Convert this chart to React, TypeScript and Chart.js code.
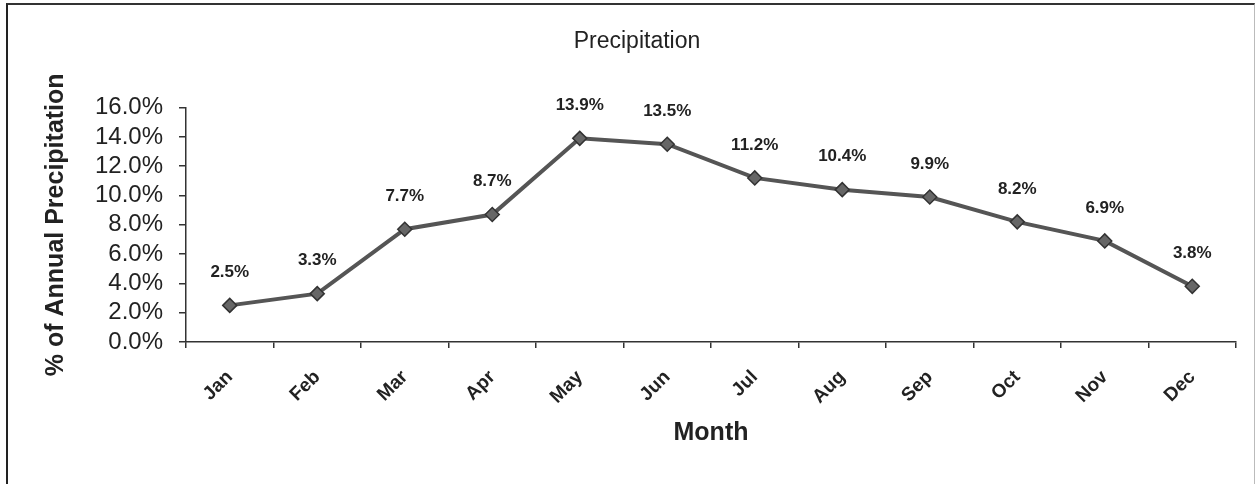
import React, { useEffect, useRef } from "react";
import { Chart, registerables } from "chart.js";

Chart.register(...registerables);

const months = ["Jan", "Feb", "Mar", "Apr", "May", "Jun", "Jul", "Aug", "Sep", "Oct", "Nov", "Dec"];
const precipitation = [2.5, 3.3, 7.7, 8.7, 13.9, 13.5, 11.2, 10.4, 9.9, 8.2, 6.9, 3.8];
const yMin = 0;
const yMax = 16;
const yStep = 2;

const FONT = "'Liberation Sans', Arial, Helvetica, sans-serif";

const dataLabelPlugin = {
  id: "dataLabels",
  afterDatasetsDraw(chart: any) {
    const ctx = chart.ctx;
    const meta = chart.getDatasetMeta(0);
    ctx.save();
    ctx.font = `bold 17px ${FONT}`;
    ctx.fillStyle = "#222";
    ctx.textAlign = "center";
    ctx.textBaseline = "middle";
    meta.data.forEach((pt: any, i: number) => {
      ctx.fillText(precipitation[i].toFixed(1) + "%", pt.x, pt.y - 33);
    });
    ctx.restore();
  },
};

export default function App() {
  const ref = useRef<HTMLCanvasElement | null>(null);

  useEffect(() => {
    if (!ref.current) return;
    const chart = new Chart(ref.current, {
      type: "line",
      data: {
        labels: months,
        datasets: [
          {
            data: precipitation,
            borderColor: "#555",
            borderWidth: 4,
            pointStyle: "rectRot",
            pointRadius: 7,
            pointBackgroundColor: "#666",
            pointBorderColor: "#333",
            pointBorderWidth: 1.5,
            tension: 0,
          },
        ],
      },
      options: {
        animation: false,
        responsive: false,
        maintainAspectRatio: false,
        layout: { padding: { left: 38, right: 22, top: 0, bottom: 0 } },
        plugins: {
          legend: { display: false },
          tooltip: { enabled: false },
          title: {
            display: true,
            text: "Precipitation",
            color: "#222",
            font: { family: FONT, size: 23, weight: "normal" },
            padding: { top: 28, bottom: 52 },
          },
        },
        scales: {
          x: {
            offset: true,
            grid: {
              offset: true,
              drawOnChartArea: false,
              drawTicks: true,
              tickLength: 6,
              color: "#333",
              lineWidth: 1.5,
            },
            border: { display: true, color: "#333", width: 1.5 },
            ticks: {
              color: "#222",
              font: { family: FONT, size: 19, weight: "bold" },
              minRotation: 45,
              maxRotation: 45,
              padding: 18,
              autoSkip: false,
            },
            title: {
              display: true,
              text: "Month",
              color: "#222",
              font: { family: FONT, size: 25, weight: "bold" },
              padding: { top: 0, bottom: 36 },
            },
            afterFit(scale: any) {
              scale.height = 142;
            },
          },
          y: {
            min: yMin,
            max: yMax,
            grid: {
              drawOnChartArea: false,
              drawTicks: true,
              tickLength: 7,
              color: "#333",
              lineWidth: 1.5,
            },
            border: { display: true, color: "#333", width: 1.5 },
            ticks: {
              stepSize: yStep,
              autoSkip: false,
              maxTicksLimit: 20,
              color: "#222",
              font: { family: FONT, size: 24, lineHeight: 1 },
              padding: 16,
              callback: (v: any) => Number(v).toFixed(1) + "%",
            },
            title: {
              display: true,
              text: "% of Annual Precipitation",
              color: "#222",
              font: { family: FONT, size: 25, weight: "bold" },
              padding: { top: 3, bottom: 0 },
            },
            afterFit(scale: any) {
              scale.width = 148;
            },
          },
        },
      },
      plugins: [dataLabelPlugin],
    });
    return () => chart.destroy();
  }, []);

  return (
    <div style={{ position: "absolute", left: 0, top: 0, width: 1258, height: 484, background: "#fff", overflow: "hidden" }}>
      <canvas ref={ref} width={1258} height={484} style={{ position: "absolute", left: 0, top: 0 }} />
      <div
        style={{
          position: "absolute",
          left: 6,
          top: 3,
          width: 1249,
          height: 500,
          borderLeft: "2px solid #222",
          borderTop: "2px solid #333",
          borderRight: "1px solid #bbb",
          boxSizing: "border-box",
          pointerEvents: "none",
        }}
      />
    </div>
  );
}
